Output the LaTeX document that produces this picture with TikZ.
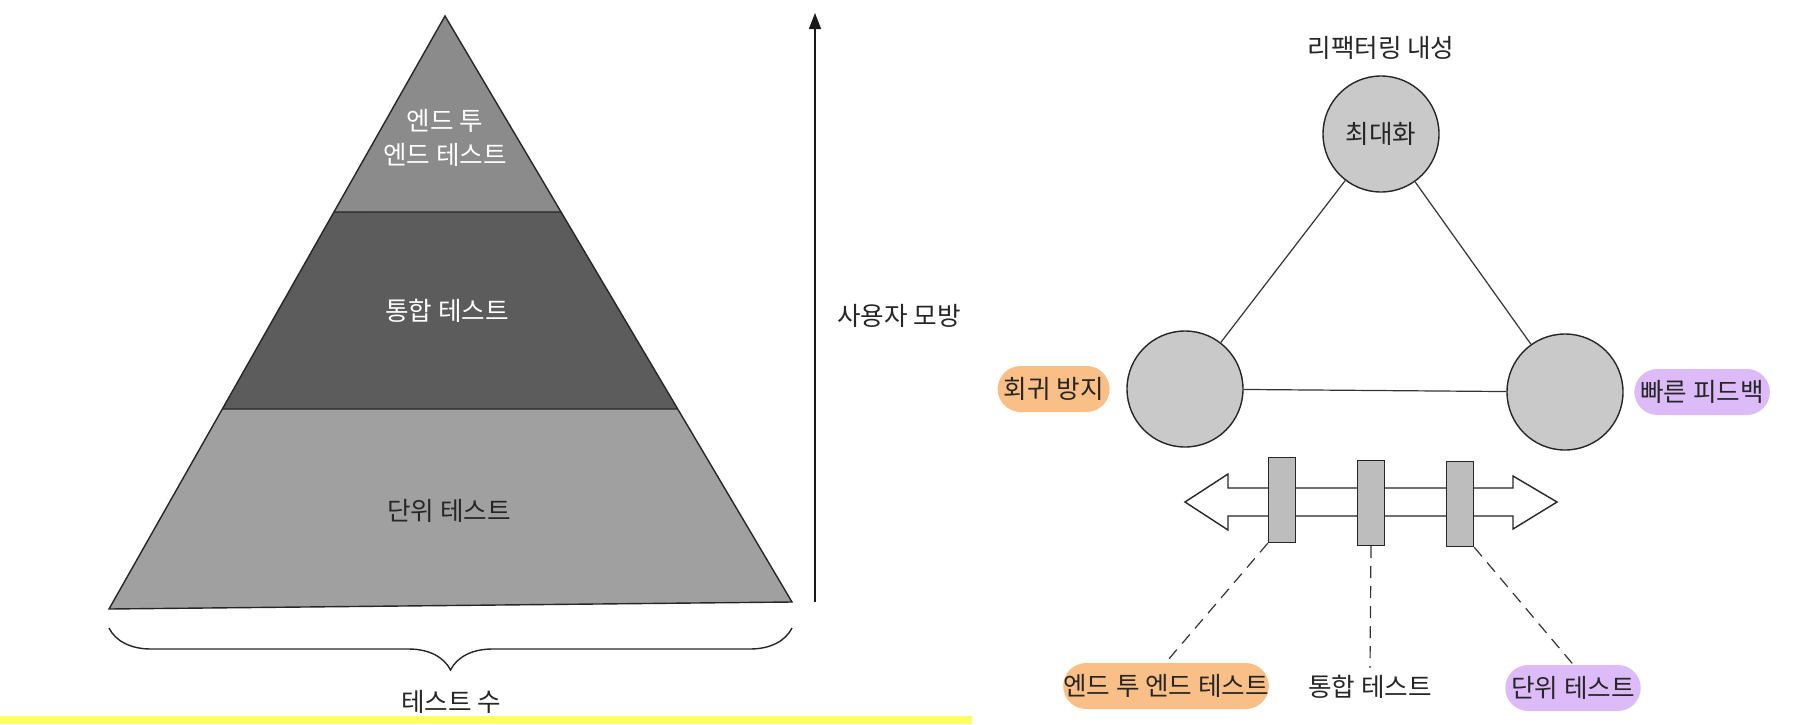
\documentclass[tikz,border=0pt]{standalone}
\usepackage{fontspec}
\setmainfont{Noto Sans CJK KR}
\usepackage{tikz}
\usetikzlibrary{%
  arrows.meta,%
  calc,%
  positioning,% wg. " of "
  decorations.pathreplacing% brace
}
\definecolor{pyrtop}{RGB}{139,139,139}
\definecolor{pyrmid}{RGB}{92,92,92}
\definecolor{pyrlow}{RGB}{160,160,160}
\definecolor{ballgray}{RGB}{201,201,201}
\definecolor{bargray}{RGB}{189,189,189}
\definecolor{pillorange}{RGB}{249,191,134}
\definecolor{pillpurple}{RGB}{221,187,248}
\definecolor{hiyellow}{RGB}{255,255,102}

\begin{document}
\begin{tikzpicture}[x=0.5pt,y=-0.5pt, line width=0.7pt,
    every node/.style={text=black!85, font=\fontsize{12.8}{15}\selectfont},
    ball/.style={circle, draw=black!85, fill=ballgray, minimum size=58pt, inner sep=0pt},
    pill/.style={rounded corners=11.5pt, fill=#1, minimum height=23pt, inner xsep=3pt, inner ysep=0pt},
    bar/.style={draw=black!85, fill=bargray, minimum width=13.5pt, minimum height=42.5pt, inner sep=0pt},
    link/.style={draw=black!80, line width=0.6pt},
    lead/.style={draw=black!80, line width=0.6pt, dash pattern=on 6pt off 4pt}]
  \useasboundingbox (0,0) rectangle (1800,724);
  \fill[hiyellow] (0,716) rectangle (972,724);

  %pyramid
  \coordinate (apex) at (445,16);
  \coordinate (baseL) at (109,609);
  \coordinate (baseR) at (792,602);
  \coordinate (cutL1) at ($(apex)!0.3305!(baseL)$);
  \coordinate (cutR1) at ($(apex)!0.3345!(baseR)$);
  \coordinate (cutL2) at ($(apex)!0.6627!(baseL)$);
  \coordinate (cutR2) at ($(apex)!0.6706!(baseR)$);
  \fill[pyrtop] (apex) -- (cutR1) -- (cutL1) -- cycle;
  \fill[pyrmid] (cutL1) -- (cutR1) -- (cutR2) -- (cutL2) -- cycle;
  \fill[pyrlow] (cutL2) -- (cutR2) -- (baseR) -- (baseL) -- cycle;
  \draw[black!85] (apex) -- (baseR) -- (baseL) -- cycle;
  \draw[black!85] (cutL1) -- (cutR1);
  \draw[black!85] (cutL2) -- (cutR2);

  \node[text=white, align=center, font=\fontsize{12.8}{17}\selectfont] (e2eLvl) at (445,138) {엔드 투\\엔드 테스트};
  \node[text=white] (intLvl) at (447,311) {통합 테스트};
  \node (unitLvl) at (449,511) {단위 테스트};

  %axes
  \coordinate (axisBot) at (815,602);
  \coordinate (axisTop) at (815,13);
  \draw[black!90, -{Triangle[length=8pt, width=6pt]}] (axisBot) -- (axisTop);
  \node[anchor=west] (mimic) at (830,316) {사용자 모방};
  \draw[black!85, decorate, decoration={brace, mirror, amplitude=21pt}] (109,628) -- (792,628);
  \node (count) at (451,702) {테스트 수};

  %triangle of attributes
  \node[ball] (max) at (1381,134) {최대화};
  \node[ball] (guard) at (1185,389) {};
  \node[ball] (fast) at (1565,392) {};
  \node[above=4pt of max] (resist) {리팩터링 내성};
  \node[pill=pillorange, left=8pt of guard] (regress) {회귀 방지};
  \node[pill=pillpurple, right=5pt of fast] (feedback) {빠른 피드백};
  \path[link] (max) -- (guard) (max) -- (fast) (guard) -- (fast);

  %spectrum
  \draw[black!85, fill=white] (1185,502) -- (1228,474) -- (1228,488) -- (1513,488) -- (1513,476)
    -- (1557,502) -- (1513,529) -- (1513,516) -- (1228,516) -- (1228,530) -- cycle;
  \node[bar] (barE) at (1282,500) {};
  \node[bar] (barI) at (1371,503) {};
  \node[bar] (barU) at (1460,504) {};

  \node[pill=pillorange, inner xsep=0pt] (e2e) at (1166,686) {엔드 투 엔드 테스트};
  \node (integ) at (1370,687) {통합 테스트};
  \node[pill=pillpurple] (unit) at (1573,688) {단위 테스트};
  \path[lead] (barE.south west) -- (e2e.north) (barI.south) -- (integ.north) (barU.south east) -- (unit.north);
\end{tikzpicture}
\end{document}
